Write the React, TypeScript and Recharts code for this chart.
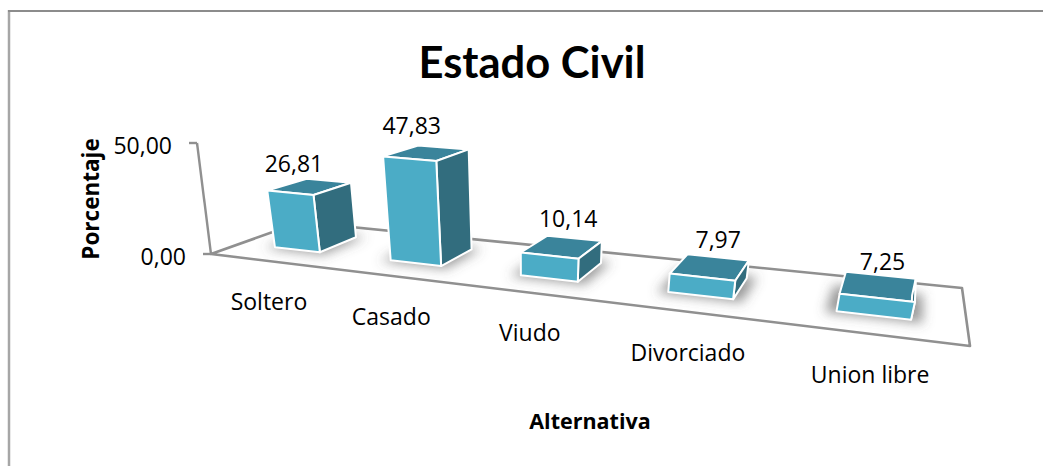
import { BarChart, Bar, XAxis, YAxis, Customized } from "recharts";

const categories = ["Soltero", "Casado", "Viudo", "Divorciado", "Union libre"];
const porcentajes = [26.81, 47.83, 10.14, 7.97, 7.25];
const yTicks = [0, 50];

const data = categories.map((categoria, i) => ({ categoria, porcentaje: porcentajes[i] }));

const WIDTH = 1043;
const HEIGHT = 466;
const FONT = "'Open Sans', sans-serif";
const TITLE_FONT = "Lato, sans-serif";

// flat plot area that recharts lays out, then bent onto the floor below
const PLOT = { left: 211, right: 970, top: 143, bottom: 254 };
const PLOT_W = PLOT.right - PLOT.left;

// floor corners on screen: front-left, front-right, back-right, back-left
const FLOOR = [
  [211, 254],
  [970, 346],
  [962, 288],
  [301, 222],
];
const VANISH = { x: 525, y: 2100 };
const VANISH_DIST = 1846;
const DEPTH_FRONT = 0.3;
const DEPTH_BACK = 0.74;
const BOX_SHIFT = 2;
const AXIS_LEAN = 14;
// hand nudges for the value labels
const LABEL_NUDGE_X = [-14, -13, 8, 10, 6];
const LABEL_NUDGE_Y = [2, -2, -3, -2, 1];

const COLORS = { front: "#4bacc6", side: "#326d7e", top: "#3a849b", axis: "#909090" };

// unit square -> floor quad
const homography = () => {
  const [[x0, y0], [x1, y1], [x2, y2], [x3, y3]] = FLOOR;
  const dx1 = x1 - x2, dx2 = x3 - x2, sx = x0 - x1 + x2 - x3;
  const dy1 = y1 - y2, dy2 = y3 - y2, sy = y0 - y1 + y2 - y3;
  const det = dx1 * dy2 - dx2 * dy1;
  const g = (sx * dy2 - dx2 * sy) / det;
  const h = (dx1 * sy - sx * dy1) / det;
  return { a: x1 - x0 + g * x1, b: x3 - x0 + h * x3, c: x0, d: y1 - y0 + g * y1, e: y3 - y0 + h * y3, f: y0, g, h };
};
const H = homography();

type Pt = { x: number; y: number };

const project = (u: number, v: number): Pt => {
  const w = H.g * u + H.h * v + 1;
  return { x: (H.a * u + H.b * v + H.c) / w, y: (H.d * u + H.e * v + H.f) / w };
};

const toU = (x: number) => (x - PLOT.left) / PLOT_W;

// raise a floor point, boxes nearer the camera (right side) read a bit taller
const lift = (p: Pt, h: number, v: number): Pt => {
  const near = 0.93 + 0.22 * toU(p.x);
  const s = (h / VANISH_DIST) * near * (1 - 0.15 * (v - DEPTH_FRONT));
  return { x: p.x + (p.x - VANISH.x) * s, y: p.y + (p.y - VANISH.y) * s };
};

const axisPoint = (h: number): Pt => ({
  x: PLOT.left - (h / (PLOT.bottom - PLOT.top)) * AXIS_LEAN,
  y: PLOT.bottom - h,
});

const pts = (list: Pt[]) => list.map((p) => `${p.x},${p.y}`).join(" ");
const comma = (n: number) => n.toFixed(2).replace(".", ",");

const Box3D = (props: any) => {
  const { x, width, height } = props;
  const u0 = toU(x);
  const u1 = toU(x + width);
  const floorPt = (u: number, v: number) => {
    const p = project(u, v);
    return { x: p.x + BOX_SHIFT, y: p.y };
  };
  const fl = floorPt(u0, DEPTH_FRONT);
  const fr = floorPt(u1, DEPTH_FRONT);
  const bl = floorPt(u0, DEPTH_BACK);
  const br = floorPt(u1, DEPTH_BACK);
  const tfl = lift(fl, height, DEPTH_FRONT);
  const tfr = lift(fr, height, DEPTH_FRONT);
  const tbl = lift(bl, height, DEPTH_BACK);
  const tbr = lift(br, height, DEPTH_BACK);
  const shadow = [
    floorPt(u0 - 0.012, DEPTH_FRONT - 0.04),
    floorPt(u1 + 0.012, DEPTH_FRONT - 0.04),
    floorPt(u1 + 0.012, DEPTH_BACK + 0.04),
    floorPt(u0 - 0.012, DEPTH_BACK + 0.04),
  ];
  const edge = { stroke: "#ffffff", strokeWidth: 2, strokeLinejoin: "round" as const };
  return (
    <g>
      <polygon points={pts(shadow)} fill="#555555" fillOpacity={0.6} filter="url(#boxShadow)" />
      <polygon points={pts([tfl, tfr, tbr, tbl])} fill={COLORS.top} {...edge} />
      <polygon points={pts([fr, br, tbr, tfr])} fill={COLORS.side} {...edge} />
      <polygon points={pts([fl, fr, tfr, tfl])} fill={COLORS.front} {...edge} />
    </g>
  );
};

const ValueLabel = (props: any) => {
  const { x, width, height, value, index } = props;
  const uc = toU(x + width / 2);
  const v = (DEPTH_FRONT + DEPTH_BACK) / 2;
  const top = lift(project(uc, v), height, v);
  return (
    <text
      x={top.x + LABEL_NUDGE_X[index]}
      y={top.y - 26 + LABEL_NUDGE_Y[index]}
      textAnchor="middle"
      dominantBaseline="central"
      fontFamily={FONT}
      fontSize={23}
      fill="#000"
    >
      {comma(value)}
    </text>
  );
};

const CategoryTick = (props: any) => {
  const { x, payload } = props;
  const p = project(toU(x), 0);
  return (
    <text x={p.x + 2} y={p.y + 40} textAnchor="middle" dominantBaseline="central" fontFamily={FONT} fontSize={23} fill="#000">
      {payload.value}
    </text>
  );
};

const ValueTick = (props: any) => {
  const { y, payload } = props;
  const p = axisPoint(PLOT.bottom - y);
  return (
    <g>
      <line x1={p.x - 8} y1={p.y} x2={p.x} y2={p.y} stroke={COLORS.axis} strokeWidth={2.4} />
      <text x={p.x - 25} y={p.y + 1.5} textAnchor="end" dominantBaseline="central" fontFamily={FONT} fontSize={23} fill="#000">
        {comma(payload.value)}
      </text>
    </g>
  );
};

const Backdrop = () => {
  const corners = FLOOR.map(([x, y]) => ({ x, y }));
  const axisTop = axisPoint(PLOT.bottom - PLOT.top);
  return (
    <g>
      <defs>
        <filter id="boxShadow" x="-40%" y="-60%" width="180%" height="220%">
          <feGaussianBlur stdDeviation="6" />
        </filter>
      </defs>
      <line x1={9} y1={10} x2={9} y2={466} stroke="#a6a6a6" strokeWidth={2.5} />
      <line x1={8} y1={11} x2={1043} y2={11} stroke="#8c8c8c" strokeWidth={2} />
      <polygon points={pts(corners)} fill="none" stroke={COLORS.axis} strokeWidth={2.6} strokeLinejoin="round" />
      <line x1={corners[0].x} y1={corners[0].y} x2={axisTop.x} y2={axisTop.y} stroke={COLORS.axis} strokeWidth={2.4} />
      <text x={532} y={61} textAnchor="middle" dominantBaseline="central" fontFamily={TITLE_FONT} fontWeight={700} fontSize={43.5} fill="#000">
        Estado Civil
      </text>
      <text transform="translate(90,199) rotate(-90)" textAnchor="middle" dominantBaseline="central" fontFamily={FONT} fontWeight={700} fontSize={22.5} fill="#000">
        Porcentaje
      </text>
      <text x={590} y={420} textAnchor="middle" dominantBaseline="central" fontFamily={FONT} fontWeight={700} fontSize={21.5} fill="#000">
        Alternativa
      </text>
    </g>
  );
};

export default function App() {
  return (
    <div style={{ position: "absolute", left: 0, top: 0, width: WIDTH, height: HEIGHT, background: "#fff" }}>
      <BarChart
        width={WIDTH}
        height={HEIGHT}
        data={data}
        barCategoryGap="30%"
        margin={{ top: PLOT.top, right: WIDTH - PLOT.right, bottom: 0, left: 0 }}
      >
        <Customized component={Backdrop} />
        <XAxis dataKey="categoria" height={HEIGHT - PLOT.bottom} axisLine={false} tickLine={false} interval={0} tick={CategoryTick} />
        <YAxis width={PLOT.left} domain={[0, 50]} ticks={yTicks} axisLine={false} tickLine={false} tick={ValueTick} />
        <Bar dataKey="porcentaje" isAnimationActive={false} shape={Box3D} label={ValueLabel} />
      </BarChart>
    </div>
  );
}
